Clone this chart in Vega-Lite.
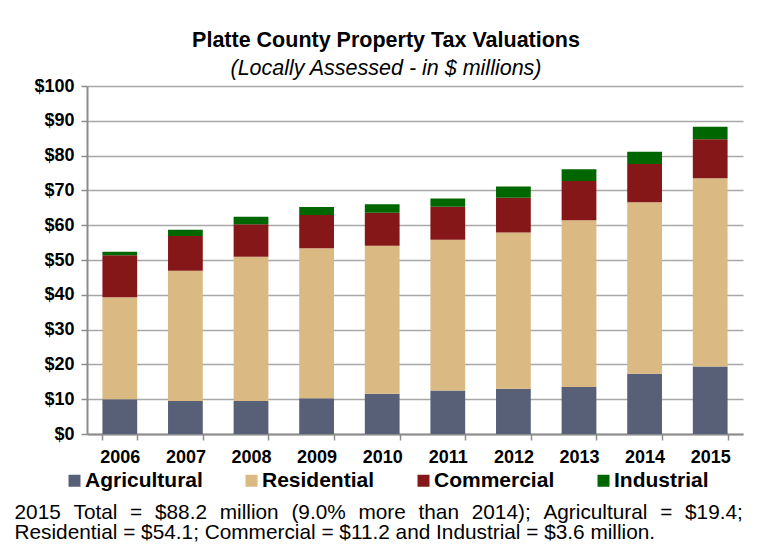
{
  "$schema": "https://vega.github.io/schema/vega-lite/v6.json",
  "width": 656,
  "height": 348,
  "autosize": {"type": "none"},
  "padding": {"left": 87, "top": 86, "right": 21, "bottom": 114},
  "background": "white",
  "title": {
    "text": "Platte County Property Tax Valuations",
    "subtitle": "(Locally Assessed - in $ millions)",
    "anchor": "middle",
    "dx": -29,
    "offset": -2,
    "font": "Liberation Sans, Arial",
    "fontSize": 21.5,
    "fontWeight": "bold",
    "color": "black",
    "subtitleFont": "Liberation Sans, Arial",
    "subtitleFontSize": 21.5,
    "subtitleFontStyle": "italic",
    "subtitleColor": "black",
    "subtitlePadding": 6
  },
  "data": {
    "values": [
      {"year": "2006", "type": "Agricultural", "value": 10.0, "ord": 1},
      {"year": "2006", "type": "Residential", "value": 29.3, "ord": 2},
      {"year": "2006", "type": "Commercial", "value": 12.1, "ord": 3},
      {"year": "2006", "type": "Industrial", "value": 1.0, "ord": 4},
      {"year": "2007", "type": "Agricultural", "value": 9.5, "ord": 1},
      {"year": "2007", "type": "Residential", "value": 37.4, "ord": 2},
      {"year": "2007", "type": "Commercial", "value": 10.0, "ord": 3},
      {"year": "2007", "type": "Industrial", "value": 1.8, "ord": 4},
      {"year": "2008", "type": "Agricultural", "value": 9.5, "ord": 1},
      {"year": "2008", "type": "Residential", "value": 41.4, "ord": 2},
      {"year": "2008", "type": "Commercial", "value": 9.4, "ord": 3},
      {"year": "2008", "type": "Industrial", "value": 2.1, "ord": 4},
      {"year": "2009", "type": "Agricultural", "value": 10.3, "ord": 1},
      {"year": "2009", "type": "Residential", "value": 43.1, "ord": 2},
      {"year": "2009", "type": "Commercial", "value": 9.5, "ord": 3},
      {"year": "2009", "type": "Industrial", "value": 2.3, "ord": 4},
      {"year": "2010", "type": "Agricultural", "value": 11.6, "ord": 1},
      {"year": "2010", "type": "Residential", "value": 42.5, "ord": 2},
      {"year": "2010", "type": "Commercial", "value": 9.5, "ord": 3},
      {"year": "2010", "type": "Industrial", "value": 2.4, "ord": 4},
      {"year": "2011", "type": "Agricultural", "value": 12.5, "ord": 1},
      {"year": "2011", "type": "Residential", "value": 43.3, "ord": 2},
      {"year": "2011", "type": "Commercial", "value": 9.5, "ord": 3},
      {"year": "2011", "type": "Industrial", "value": 2.4, "ord": 4},
      {"year": "2012", "type": "Agricultural", "value": 13.0, "ord": 1},
      {"year": "2012", "type": "Residential", "value": 44.9, "ord": 2},
      {"year": "2012", "type": "Commercial", "value": 10.0, "ord": 3},
      {"year": "2012", "type": "Industrial", "value": 3.2, "ord": 4},
      {"year": "2013", "type": "Agricultural", "value": 13.5, "ord": 1},
      {"year": "2013", "type": "Residential", "value": 47.9, "ord": 2},
      {"year": "2013", "type": "Commercial", "value": 11.3, "ord": 3},
      {"year": "2013", "type": "Industrial", "value": 3.4, "ord": 4},
      {"year": "2014", "type": "Agricultural", "value": 17.3, "ord": 1},
      {"year": "2014", "type": "Residential", "value": 49.3, "ord": 2},
      {"year": "2014", "type": "Commercial", "value": 11.0, "ord": 3},
      {"year": "2014", "type": "Industrial", "value": 3.5, "ord": 4},
      {"year": "2015", "type": "Agricultural", "value": 19.4, "ord": 1},
      {"year": "2015", "type": "Residential", "value": 54.1, "ord": 2},
      {"year": "2015", "type": "Commercial", "value": 11.2, "ord": 3},
      {"year": "2015", "type": "Industrial", "value": 3.6, "ord": 4}
    ]
  },
  "mark": {"type": "bar"},
  "encoding": {
    "x": {
      "field": "year",
      "type": "ordinal",
      "scale": {"paddingInner": 0.47, "paddingOuter": 0.235},
      "axis": {
        "title": [
          "2015 \u2004Total \u2004= \u2004$88.2 \u2004million \u2004(9.0% \u2004more \u2004than \u20042014); \u2004Agricultural \u2004= \u2004$19.4;",
          "Residential = $54.1; Commercial = $11.2 and Industrial = $3.6 million."
        ],
        "titleFont": "Liberation Sans, Arial",
        "titleFontSize": 20.8,
        "titleFontWeight": "normal",
        "titleColor": "black",
        "titleAnchor": "start",
        "titleAlign": "left",
        "titleBaseline": "alphabetic",
        "titleX": -73,
        "titleY": 84,
        "titleLineHeight": 20.7,
        "labelAngle": 0,
        "labelFont": "Liberation Sans, Arial",
        "labelFontSize": 18,
        "labelFontWeight": "bold",
        "labelColor": "black",
        "labelPadding": 8,
        "tickBand": "extent",
        "tickSize": 6,
        "tickColor": "#8c8c8c",
        "tickWidth": 1.5,
        "domainColor": "#8c8c8c",
        "domainWidth": 2,
        "grid": false
      }
    },
    "y": {
      "field": "value",
      "type": "quantitative",
      "aggregate": "sum",
      "stack": "zero",
      "scale": {"domain": [0, 100]},
      "axis": {
        "title": null,
        "values": [0, 10, 20, 30, 40, 50, 60, 70, 80, 90, 100],
        "labelExpr": "'$' + datum.value",
        "labelFont": "Liberation Sans, Arial",
        "labelFontSize": 18,
        "labelFontWeight": "bold",
        "labelColor": "black",
        "labelPadding": 7,
        "tickSize": 6,
        "tickColor": "#8c8c8c",
        "tickWidth": 1.5,
        "domainColor": "#8c8c8c",
        "domainWidth": 2,
        "grid": true,
        "gridColor": "#a8a8a8",
        "gridWidth": 1.5
      }
    },
    "color": {
      "field": "type",
      "type": "nominal",
      "scale": {
        "domain": ["Agricultural", "Residential", "Commercial", "Industrial"],
        "range": ["#586078", "#dab982", "#851719", "#006600"]
      },
      "legend": {
        "title": null,
        "orient": "none",
        "direction": "horizontal",
        "legendX": -23,
        "legendY": 384,
        "symbolType": "square",
        "symbolSize": 144,
        "symbolStrokeWidth": 0,
        "symbolOpacity": 1,
        "labelFont": "Liberation Sans, Arial",
        "labelFontSize": 21,
        "labelFontWeight": "bold",
        "labelColor": "black",
        "labelOffset": 0,
        "columnPadding": 38,
        "labelLimit": 300
      }
    },
    "order": {"field": "ord", "type": "quantitative"}
  },
  "config": {
    "view": {"stroke": null}
  }
}
